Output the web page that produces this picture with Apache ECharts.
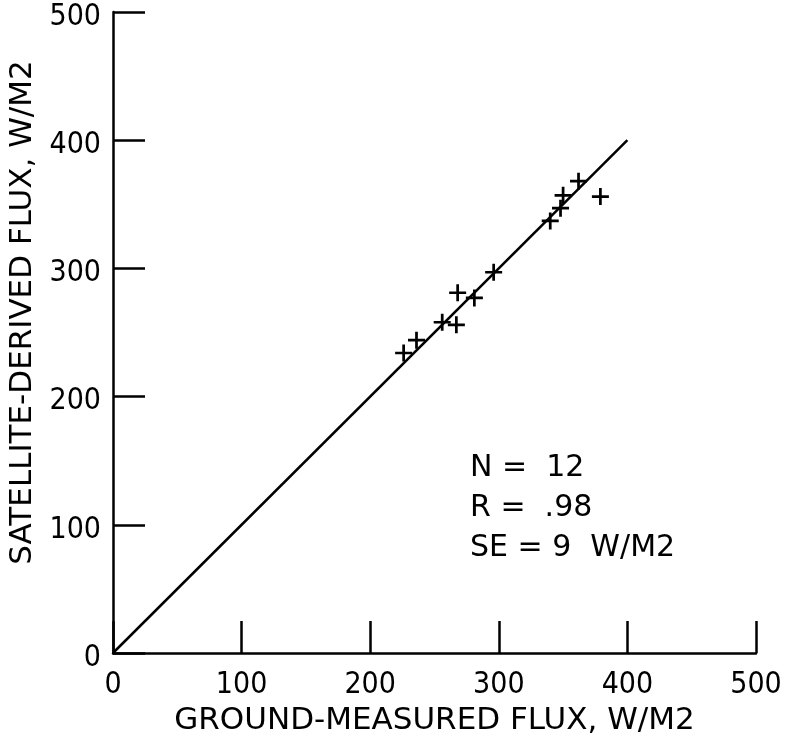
<!DOCTYPE html>
<html>
<head>
<meta charset="utf-8">
<script src="https://cdn.jsdelivr.net/npm/echarts@6/dist/echarts.min.js"></script>
<style>
  html, body { margin: 0; padding: 0; background: #fff; }
  #chart { width: 785px; height: 736px; }
</style>
</head>
<body>
<div id="chart"></div>
<script>
// ground-measured vs satellite-derived flux, W/M2
const groundFlux = [226, 236, 256, 267, 268, 281, 296, 340, 348, 350, 362, 379];
const satelliteFlux = [234, 244, 258, 256, 281, 277, 297, 337, 347, 357, 368, 356];
const oneToOne = [[0, 0], [400, 400]];
const statsLines = ["N =  12", "R =  .98", "SE = 9  W/M2"];

const numFont = "'DejaVu Sans Condensed', sans-serif";
const textFont = "'DejaVu Sans', sans-serif";
const plus = "path://M4.2,0H5.8V4.2H10V5.8H5.8V10H4.2V5.8H0V4.2H4.2Z";

const chart = echarts.init(document.getElementById("chart"));

const points = groundFlux.map((x, i) => [x, satelliteFlux[i]]);

const axisBase = {
  type: "value",
  min: 0, max: 500, interval: 100,
  nameLocation: "middle",
  axisLine: { lineStyle: { color: "#000", width: 2.5 } },
  axisTick: { inside: true, length: 32, lineStyle: { color: "#000", width: 2.5 } },
  splitLine: { show: false }
};

const option = {
  animation: false,
  backgroundColor: "#fff",
  grid: { left: 113, right: 29, top: 12, bottom: 83, outerBoundsMode: "none", containLabel: false },
  xAxis: Object.assign({}, axisBase, {
    name: "GROUND-MEASURED FLUX, W/M2",
    nameGap: 52,
    nameTextStyle: { fontFamily: textFont, fontSize: 31, color: "#000" },
    axisLabel: { fontFamily: numFont, fontSize: 30, color: "#000", margin: 17 }
  }),
  yAxis: Object.assign({}, axisBase, {
    name: "SATELLITE-DERIVED FLUX, W/M2",
    nameGap: 64,
    nameRotate: 90,
    nameTextStyle: { fontFamily: textFont, fontSize: 31, color: "#000", padding: [0, 0, 0, 40] },
    axisLabel: {
      fontFamily: numFont, fontSize: 30, color: "#000", margin: 12,
      verticalAlign: "top", lineHeight: 10
    }
  }),
  graphic: statsLines.map((t, i) => ({
    type: "text",
    left: 470,
    top: 453 + i * 40,
    style: { text: t, fontFamily: textFont, fontSize: 30, fill: "#000" }
  })),
  series: [
    {
      type: "line",
      data: oneToOne,
      symbol: "none",
      silent: true,
      lineStyle: { color: "#000", width: 2.5 }
    },
    {
      type: "scatter",
      data: points,
      symbol: plus,
      symbolSize: 17,
      itemStyle: { color: "#000", opacity: 1 }
    }
  ]
};

chart.setOption(option);
</script>
</body>
</html>
